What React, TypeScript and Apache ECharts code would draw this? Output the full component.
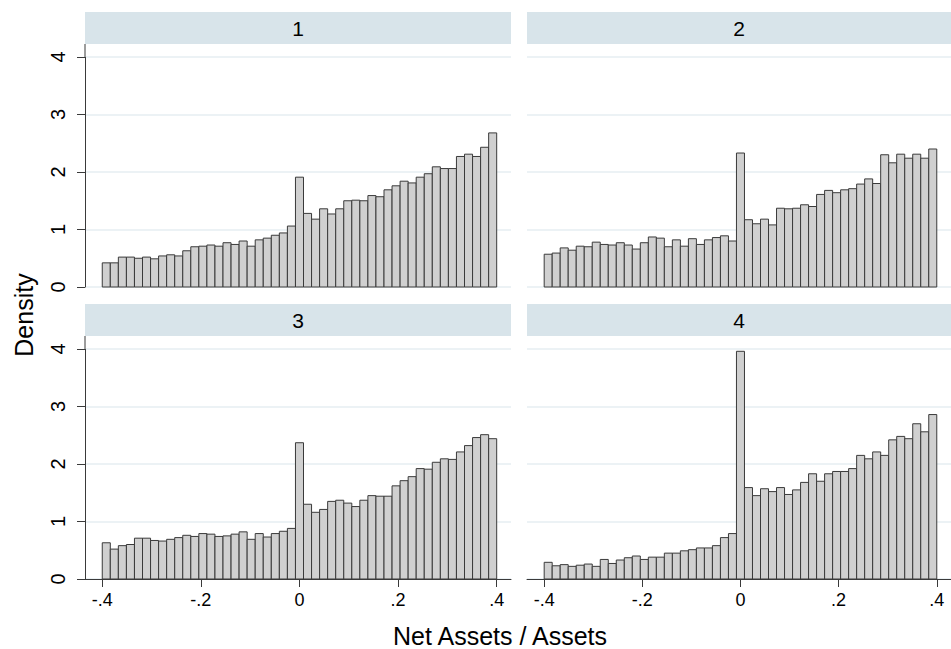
import React, { useEffect, useRef } from "react";
import * as echarts from "echarts";

// Histogram densities, 49 equal bins spanning -0.4 .. 0.4
const panelLabels = ["1", "2", "3", "4"];
const binRange = [-0.4, 0.4];
const density1 = [0.42, 0.42, 0.52, 0.52, 0.50, 0.52, 0.49, 0.54, 0.56, 0.54, 0.63, 0.70, 0.71, 0.73, 0.71, 0.77, 0.74, 0.80, 0.71, 0.82, 0.85, 0.90, 0.94, 1.06, 1.91, 1.28, 1.18, 1.36, 1.27, 1.36, 1.50, 1.51, 1.50, 1.59, 1.57, 1.69, 1.76, 1.84, 1.81, 1.91, 1.97, 2.09, 2.06, 2.06, 2.27, 2.31, 2.27, 2.43, 2.68];
const density2 = [0.57, 0.59, 0.68, 0.64, 0.71, 0.70, 0.78, 0.74, 0.73, 0.77, 0.73, 0.66, 0.77, 0.87, 0.85, 0.70, 0.82, 0.71, 0.84, 0.74, 0.82, 0.86, 0.89, 0.80, 2.33, 1.17, 1.10, 1.18, 1.08, 1.37, 1.36, 1.37, 1.43, 1.40, 1.61, 1.68, 1.64, 1.69, 1.71, 1.79, 1.88, 1.80, 2.30, 2.16, 2.31, 2.24, 2.31, 2.24, 2.40];
const density3 = [0.63, 0.52, 0.58, 0.60, 0.71, 0.71, 0.67, 0.66, 0.69, 0.72, 0.76, 0.74, 0.79, 0.78, 0.74, 0.75, 0.78, 0.82, 0.69, 0.79, 0.73, 0.79, 0.83, 0.88, 2.37, 1.30, 1.16, 1.21, 1.35, 1.37, 1.32, 1.26, 1.37, 1.45, 1.44, 1.44, 1.62, 1.71, 1.78, 1.92, 1.91, 2.03, 2.09, 2.08, 2.21, 2.32, 2.46, 2.51, 2.44];
const density4 = [0.29, 0.23, 0.25, 0.22, 0.24, 0.26, 0.22, 0.34, 0.27, 0.33, 0.37, 0.40, 0.34, 0.38, 0.38, 0.45, 0.45, 0.49, 0.51, 0.54, 0.54, 0.58, 0.72, 0.79, 3.96, 1.59, 1.45, 1.57, 1.52, 1.59, 1.47, 1.55, 1.68, 1.83, 1.70, 1.83, 1.87, 1.87, 1.92, 2.15, 2.09, 2.21, 2.15, 2.42, 2.48, 2.44, 2.70, 2.56, 2.86];
const densities = [density1, density2, density3, density4];
const xTickValues = [-0.4, -0.2, 0, 0.2, 0.4];
const xTitle = "Net Assets / Assets";
const yTitle = "Density";

const FONT = "'Liberation Sans', Arial, Helvetica, sans-serif";
const GRID_COLOR = "#e6eef2";
const STRIP_COLOR = "#d8e4ea";
const AXIS_COLOR = "#3a3a3a";

function binData(values: number[]) {
  const n = values.length;
  const w = (binRange[1] - binRange[0]) / n;
  return values.map((v, i) => [binRange[0] + i * w, binRange[0] + (i + 1) * w, v]);
}

function fmtX(v: number) {
  if (Math.abs(v) < 1e-9) return "0";
  const s = (Math.round(v * 10) / 10).toString();
  return s.replace(/^(-?)0\./, "$1.");
}

export default function App() {
  const ref = useRef<HTMLDivElement>(null);
  useEffect(() => {
    if (!ref.current) return;
    const chart = echarts.init(ref.current, null, { renderer: "svg" });

    const colLeft = [85, 527];
    const rowTop = [57, 349];
    const gridW = 426;
    const gridH = 230;

    const grids: any[] = [];
    const xAxes: any[] = [];
    const yAxes: any[] = [];
    const series: any[] = [];
    const graphics: any[] = [];

    for (let p = 0; p < 4; p++) {
      const r = Math.floor(p / 2);
      const c = p % 2;
      grids.push({ left: colLeft[c], top: rowTop[r], width: gridW, height: gridH });
      const bottomRow = r === 1;
      const leftCol = c === 0;
      xAxes.push({
        type: "value",
        gridIndex: p,
        min: -0.435,
        max: 0.429,
        show: bottomRow,
        axisLine: { show: true, onZero: false, lineStyle: { color: AXIS_COLOR, width: 1 } },
        axisTick: { show: true, length: 8, customValues: xTickValues, lineStyle: { color: AXIS_COLOR } },
        axisLabel: {
          show: true,
          customValues: xTickValues,
          formatter: (v: number) => fmtX(v),
          fontFamily: FONT,
          fontSize: 18,
          color: "#000",
          margin: 12,
        },
        splitLine: { show: false },
      });
      yAxes.push({
        type: "value",
        gridIndex: p,
        min: 0,
        max: 4,
        interval: 1,
        axisLine: { show: leftCol, onZero: false, lineStyle: { color: AXIS_COLOR, width: 1 } },
        axisTick: { show: leftCol, length: 8, lineStyle: { color: AXIS_COLOR } },
        axisLabel: {
          show: leftCol,
          rotate: 90,
          fontFamily: FONT,
          fontSize: 20,
          color: "#000",
          margin: 17,
        },
        splitLine: { show: true, lineStyle: { color: GRID_COLOR, width: 1.5 } },
      });
      series.push({
        type: "custom",
        xAxisIndex: p,
        yAxisIndex: p,
        data: binData(densities[p]),
        encode: { x: [0, 1], y: 2 },
        renderItem: (params: any, api: any) => {
          const p0 = api.coord([api.value(0), api.value(2)]);
          const p1 = api.coord([api.value(1), 0]);
          return {
            type: "rect",
            shape: { x: p0[0], y: p0[1], width: p1[0] - p0[0], height: p1[1] - p0[1] },
            style: { fill: "#d0d0d0", stroke: AXIS_COLOR, lineWidth: 1 },
          };
        },
      });

      const stripTop = r === 0 ? 12 : 304;
      const stripW = c === 0 ? gridW : 951 - colLeft[1];
      graphics.push({
        type: "rect",
        shape: { x: colLeft[c], y: stripTop, width: stripW, height: 32 },
        style: { fill: STRIP_COLOR },
        silent: true,
      });
      graphics.push({
        type: "text",
        x: colLeft[c] + stripW / 2,
        y: stripTop + 16,
        style: {
          text: panelLabels[p],
          fill: "#000",
          font: `21px ${FONT}`,
          align: "center",
          verticalAlign: "middle",
        },
        silent: true,
      });
      if (leftCol) {
        graphics.push({
          type: "line",
          shape: { x1: 85, y1: stripTop + 32, x2: 85, y2: rowTop[r] },
          style: { stroke: AXIS_COLOR, lineWidth: 1 },
          silent: true,
        });
      }
    }

    graphics.push({
      type: "text",
      x: 24,
      y: 315,
      rotation: Math.PI / 2,
      style: {
        text: yTitle,
        fill: "#000",
        font: `25px ${FONT}`,
        align: "center",
        verticalAlign: "middle",
      },
      silent: true,
    });
    graphics.push({
      type: "text",
      x: 500,
      y: 636,
      style: {
        text: xTitle,
        fill: "#000",
        font: `25px ${FONT}`,
        align: "center",
        verticalAlign: "middle",
      },
      silent: true,
    });

    chart.setOption({
      animation: false,
      backgroundColor: "#fff",
      grid: grids,
      xAxis: xAxes,
      yAxis: yAxes,
      series,
      graphic: graphics,
    });
    return () => chart.dispose();
  }, []);
  return (
    <div
      ref={ref}
      style={{ position: "fixed", left: 0, top: 0, width: 951, height: 649 }}
    />
  );
}
